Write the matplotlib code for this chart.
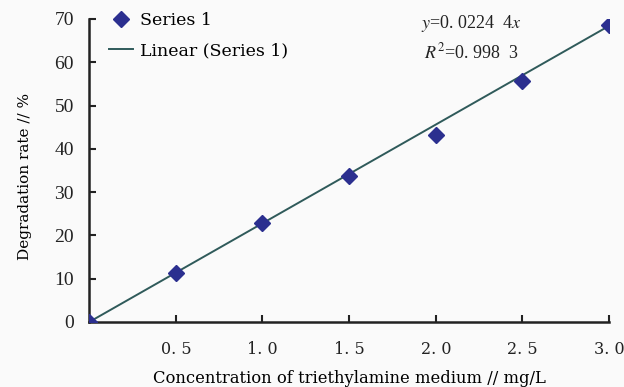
import numpy as np
import matplotlib.pyplot as plt

conc = [0.0, 0.5, 1.0, 1.5, 2.0, 2.5, 3.0]
rate = [0.0, 11.4, 22.8, 33.8, 43.1, 55.6, 68.6]
fit_x = [0.0, 3.0]
fit_y = [0.0, 68.4]
xticks = [0.5, 1.0, 1.5, 2.0, 2.5, 3.0]
xticklabels = ["0. 5", "1. 0", "1. 5", "2. 0", "2. 5", "3. 0"]
yticks = [0, 10, 20, 30, 40, 50, 60, 70]

plt.rcParams['mathtext.fontset'] = 'stix'
wide = 'DejaVu Serif'
serif = 'Liberation Serif'

fig = plt.figure(figsize=(6.24, 3.87), dpi=100, facecolor='#fafafa')
ax = fig.add_axes([0.143, 0.168, 0.833, 0.783], facecolor='#fafafa')

ax.plot(conc, rate, linestyle='none', marker='D', markersize=8,
        color='#2b2f8f', label='Series 1', zorder=3)
ax.plot(fit_x, fit_y, color='#2f5a5a', linewidth=1.4, label='Linear (Series 1)', zorder=2)

ax.set_xlim(0, 3.0)
ax.set_ylim(0, 70)
ax.set_xticks(xticks)
ax.set_xticklabels(xticklabels, fontfamily=wide, fontsize=11.5)
ax.set_yticks(yticks)
ax.set_yticklabels([str(v) for v in yticks], fontfamily=serif, fontsize=14)
ax.tick_params(direction='in', length=5, width=1.5, colors='#222222', pad=11)
ax.tick_params(axis='x', pad=14)
for s in ['top', 'right']:
    ax.spines[s].set_visible(False)
for s in ['left', 'bottom']:
    ax.spines[s].set_linewidth(1.8)
    ax.spines[s].set_color('#222222')

ax.set_xlabel('Concentration of triethylamine medium // mg/L', fontfamily=wide,
              fontsize=11.8, labelpad=8)
ax.set_ylabel('Degradation rate // %', fontfamily=wide, fontsize=11, labelpad=14)
ax.yaxis.set_label_coords(-0.11, 0.48)

leg = ax.legend(loc='upper left', bbox_to_anchor=(0.008, 1.075), frameon=False,
                prop={'family': wide, 'size': 12.5}, handlelength=1.4,
                handletextpad=0.4, labelspacing=0.75)

ax.text(0.735, 0.985, r'$y$=0. 0224  4$x$', transform=ax.transAxes, ha='center',
        va='center', fontfamily=serif, fontsize=13, color='#222222')
ax.text(0.735, 0.89, r'$R^{\mathrm{2}}$=0. 998  3', transform=ax.transAxes, ha='center',
        va='center', fontfamily=serif, fontsize=13, color='#222222')

fig.savefig('out.png', dpi=100, facecolor=fig.get_facecolor())
